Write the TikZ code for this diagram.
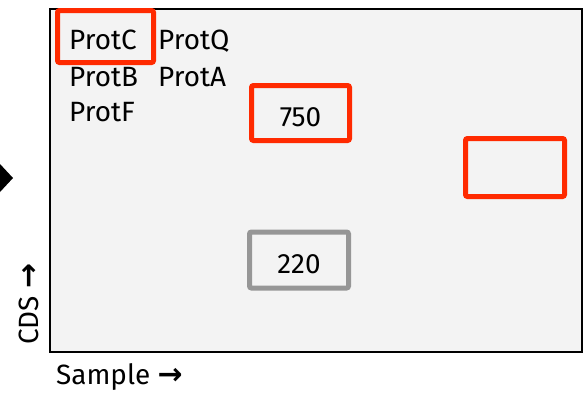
\documentclass[tikz,border=0pt]{standalone}
\usepackage{fontspec}
\setmainfont{Fira Sans}
\newfontfamily\arrfont{DejaVu Sans}
\usetikzlibrary{shadows}
\definecolor{hlred}{RGB}{255,42,0}
\definecolor{hlgray}{RGB}{150,150,150}
\definecolor{panel}{RGB}{243,243,243}
\tikzset{
  lbl/.style={inner sep=0pt, anchor=base west, font=\fontsize{28}{34}\selectfont},
  hlbox/.style={draw=#1, fill=panel, line width=5bp, rounded corners=2bp, inner sep=0pt,
    drop shadow={opacity=0.2, shadow xshift=1.5bp, shadow yshift=-1.5bp}},
  boxtext/.style={font=\fontsize{28}{34}\selectfont, text height=27bp, text depth=0bp},
}
\begin{document}
\begin{tikzpicture}[x=1bp,y=-1bp]
\useasboundingbox (0,0) rectangle (584,395);
\node[draw=black, line width=2bp, fill=panel, minimum width=532bp, minimum height=343bp, inner sep=0pt, anchor=north west] (panel) at (49,8) {};
\fill[black] (0,164) -- (13,178) -- (0,192) -- cycle;
\node[hlbox=hlred, minimum width=96bp, minimum height=52bp] (bc) at (105.5,36.5) {};
\node[lbl] (protc) at (69,49) {ProtC};
\node[lbl] (protq) at (158,49) {ProtQ};
\node[lbl] (protb) at (69,86) {ProtB};
\node[lbl] (prota) at (158,86) {ProtA};
\node[lbl] (protf) at (69,121) {ProtF};
\node[hlbox=hlred, minimum width=98bp, minimum height=55bp, boxtext] (b750) at (300.5,113) {750};
\node[hlbox=hlred, minimum width=99bp, minimum height=58bp] (bempty) at (515,167.5) {};
\node[hlbox=hlgray, minimum width=99bp, minimum height=56bp, boxtext] (b220) at (299,260) {220};
\node[lbl, rotate=90] (cds) at (38,345) {CDS {\arrfont\fontsize{30}{34}\selectfont\bfseries →}};
\node[lbl] (sample) at (56,384) {Sample {\arrfont\fontsize{30}{34}\selectfont\bfseries →}};
\end{tikzpicture}
\end{document}
